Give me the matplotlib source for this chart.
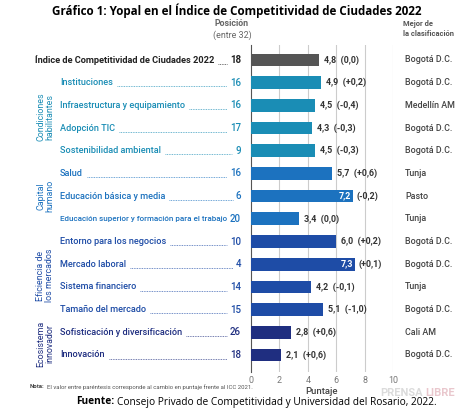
import matplotlib
matplotlib.use("Agg")
from matplotlib import pyplot as plt
from matplotlib import transforms

categorias = [
    "Índice de Competitividad de Ciudades 2022",
    "Instituciones",
    "Infraestructura y equipamiento",
    "Adopción TIC",
    "Sostenibilidad ambiental",
    "Salud",
    "Educación básica y media",
    "Educación superior y formación para el trabajo",
    "Entorno para los negocios",
    "Mercado laboral",
    "Sistema financiero",
    "Tamaño del mercado",
    "Sofisticación y diversificación",
    "Innovación",
]
posiciones = [18, 16, 16, 17, 9, 16, 6, 20, 10, 4, 14, 15, 26, 18]
puntajes = [4.8, 4.9, 4.5, 4.3, 4.5, 5.7, 7.2, 3.4, 6.0, 7.3, 4.2, 5.1, 2.8, 2.1]
cambios = [0.0, 0.2, -0.4, -0.3, -0.3, 0.6, -0.2, 0.0, 0.2, 0.1, -0.1, -1.0, 0.6, 0.6]
mejores = [
    "Bogotá D.C.", "Bogotá D.C.", "Medellín AM", "Bogotá D.C.", "Bogotá D.C.",
    "Tunja", "Pasto", "Tunja", "Bogotá D.C.", "Bogotá D.C.", "Tunja",
    "Bogotá D.C.", "Cali AM", "Bogotá D.C.",
]
# pilar de cada fila (0 = índice general)
grupo_fila = [0, 1, 1, 1, 1, 2, 2, 2, 3, 3, 3, 3, 4, 4]
grupos = ["", "Condiciones\nhabilitantes", "Capital\nhumano",
          "Eficiencia de\nlos mercados", "Ecosistema\ninnovador"]
colores = ["#555555", "#1a8db5", "#1c72bf", "#1e4ca6", "#1f2e80"]

narrow = ["Roboto", "DejaVu Sans"]
fs = 6.4
fs_cat = 6.6


def fmt(v):
    return f"{v:.1f}".replace(".", ",")


def fmt_cambio(v):
    if v == 0:
        return "(0,0)"
    return "(" + ("+" if v > 0 else "") + fmt(v) + ")"


fig = plt.figure(figsize=(4.74, 4.16), dpi=100)
ax = fig.add_axes([251 / 474, 1 - 372 / 416, 142 / 474, 327 / 416])
renderer = fig.canvas.get_renderer()

filas = list(range(len(categorias)))
cols = [colores[g] for g in grupo_fila]
ax.barh(filas, puntajes, height=0.56, color=cols, zorder=3)

ax.set_xlim(0, 10)
ax.set_ylim(len(categorias) - 1 + 0.75, -0.66)
ax.set_xticks([0, 2, 4, 6, 8, 10])
ax.set_xticklabels(["0", "2", "4", "6", "8", "10"], family=narrow, fontsize=fs, color="#777777")
ax.tick_params(axis="x", length=0, pad=3)
ax.set_yticks([])
for x in [2, 4, 6, 8, 10]:
    ax.axvline(x, color="#cccccc", lw=0.8, zorder=1)
for s in ["top", "right", "bottom"]:
    ax.spines[s].set_visible(False)
ax.spines["left"].set_color("#555555")
ax.spines["left"].set_linewidth(0.8)
ax.set_xlabel("Puntaje", family=narrow, fontsize=fs + 0.4, color="#444444",
              fontweight="medium", labelpad=1)

# valores y cambios
for i, (v, c) in enumerate(zip(puntajes, cambios)):
    if v >= 7:
        ax.text(v - 0.12, i, fmt(v), ha="right", va="center", family=narrow, fontsize=fs,
                color="white", fontweight="bold", zorder=4)
        ax.text(v + 0.25, i, fmt_cambio(c), ha="left", va="center", family=narrow,
                fontsize=fs, color="#333333", fontweight="bold")
    else:
        ax.text(v + 0.35, i, fmt(v) + "  " + fmt_cambio(c), ha="left", va="center",
                family=narrow, fontsize=fs, color="#333333", fontweight="bold")

tr = transforms.blended_transform_factory(fig.transFigure, ax.transData)
for i, cat in enumerate(categorias):
    g = grupo_fila[i]
    col = "#222222" if g == 0 else colores[g]
    x0 = 35 / 474 if g == 0 else 60 / 474
    t = fig.text(x0, i, cat, transform=tr, ha="left", va="center", family=narrow,
                 fontsize=fs_cat + (0.3 if g == 0 else 0), color=col,
                 fontweight="bold" if g == 0 else "medium")
    # las etiquetas largas se comprimen para caber antes del número
    e1 = t.get_window_extent(renderer)
    lim = 224 if g else 216
    if e1.x1 > lim:
        t.set_fontsize(t.get_fontsize() * (lim - e1.x0) / (e1.x1 - e1.x0))
        e1 = t.get_window_extent(renderer)
    n = fig.text(241 / 474, i, str(posiciones[i]), transform=tr, ha="right", va="center",
                 family=narrow, fontsize=fs + 0.6, color=col,
                 fontweight="bold" if g == 0 else "medium")
    e2 = n.get_window_extent(renderer)
    xa = (e1.x1 + 4) / fig.bbox.width
    xb = (e2.x0 - 3) / fig.bbox.width
    if xb > xa:
        fig.add_artist(plt.Line2D([xa, xb], [i + 0.16, i + 0.16], transform=tr,
                                  color=col, lw=0.5, linestyle=(0, (1.2, 1.2))))
    fig.text(405 / 474, i, mejores[i], transform=tr, ha="left", va="center",
             family=narrow, fontsize=fs, color="#444444", fontweight="medium")

# etiquetas de pilares
for g in range(1, 5):
    idx = [i for i, gg in enumerate(grupo_fila) if gg == g]
    yc = (idx[0] + idx[-1]) / 2
    fig.text(45 / 474, yc, grupos[g], transform=tr, ha="center", va="center",
             rotation=90, family=narrow, fontsize=fs, color=colores[g],
             linespacing=1.0, multialignment="center")

# encabezados
fig.text(0.5, 1 - 11 / 416, "Gráfico 1: Yopal en el Índice de Competitividad de Ciudades 2022",
         ha="center", va="center", family=["Open Sans", "DejaVu Sans"], fontweight="bold",
         fontsize=8.4)
fig.text(232 / 474, 1 - 24 / 416, "Posición", ha="center", va="center", family=narrow,
         fontsize=fs, color="#666666", fontweight="bold")
fig.text(232 / 474, 1 - 35 / 416, "(entre 32)", ha="center", va="center", family=narrow,
         fontsize=fs, color="#666666")
fig.text(403 / 474, 1 - 29 / 416, "Mejor de\nla clasificación", ha="left", va="center",
         family=narrow, fontsize=fs - 1.0, color="#555555", fontweight="bold", linespacing=1.4)

# nota y fuente
nt = fig.text(30 / 474, 1 - 387 / 416, "Nota:", ha="left", va="center", family=narrow,
              fontsize=4.3, color="#444444", fontweight="bold")
en = nt.get_window_extent(renderer)
fig.text((en.x1 + 2) / 474, 1 - 387 / 416,
         "El valor entre paréntesis corresponde al cambio en puntaje frente al ICC 2021.",
         ha="left", va="center", family=narrow, fontsize=4.3, color="#555555")
f1 = fig.text(76 / 474, 1 - 402 / 416, "Fuente:", ha="left", va="center",
              family=["Open Sans", "DejaVu Sans"], fontweight="bold", fontsize=7.3)
ef = f1.get_window_extent(renderer)
fig.text((ef.x1 + 3) / 474, 1 - 402 / 416,
         "Consejo Privado de Competitividad y Universidad del Rosario, 2022.",
         ha="left", va="center", family=["Open Sans", "DejaVu Sans"], fontsize=7.3)

# marca de agua
w1 = fig.text(380 / 474, 1 - 393 / 416, "PRENSA", ha="left", va="center",
              family=narrow, fontsize=8, fontweight="bold", color="#999999", alpha=0.35)
ew = w1.get_window_extent(renderer)
fig.text((ew.x1 + 3) / 474, 1 - 393 / 416, "LIBRE", ha="left", va="center",
         family=narrow, fontsize=8, fontweight="bold", color="#c06070", alpha=0.35)

fig.savefig("out.png", dpi=100)
